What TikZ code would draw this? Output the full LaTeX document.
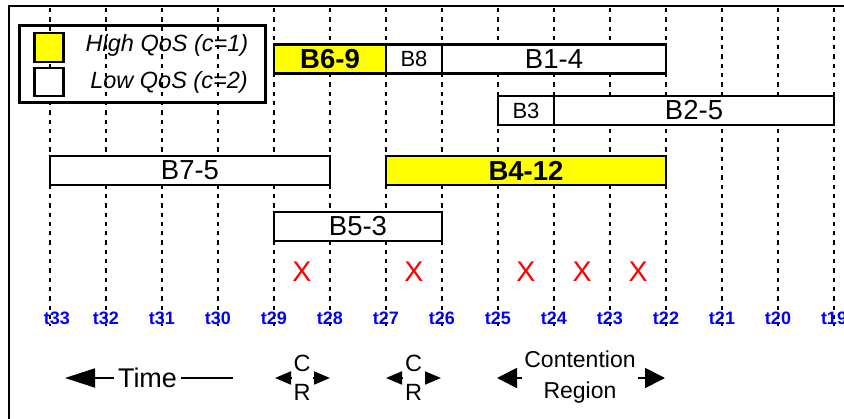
\documentclass[tikz,border=0pt]{standalone}
\usepackage{fontspec}
\setmainfont{Liberation Sans}
\usetikzlibrary{arrows.meta}
\definecolor{qhigh}{RGB}{255,255,0}
\definecolor{tickblue}{RGB}{0,0,255}
\definecolor{lossred}{RGB}{255,0,0}
\tikzset{
  slotbox/.style={draw, line width=2.4pt, fill=white, minimum height=29pt,
    inner sep=0pt, font=\fontsize{27.5}{27.5}\selectfont},
  smallslot/.style={slotbox, font=\fontsize{22}{22}\selectfont},
  highslot/.style={slotbox, fill=qhigh, font=\fontsize{27.5}{27.5}\selectfont\bfseries},
  gridline/.style={line width=1.1pt, dash pattern=on 4.3pt off 5pt},
  ticklabel/.style={text=tickblue, font=\fontsize{18}{18}\selectfont\bfseries, inner sep=0pt},
  lossmark/.style={text=lossred, font=\fontsize{28.5}{28.5}\selectfont, inner sep=0pt},
  legendtext/.style={font=\fontsize{23.5}{23.5}\selectfont\itshape, inner sep=0pt, anchor=base},
  swatch/.style={draw, line width=2.2pt, minimum width=29pt, minimum height=28.5pt, inner sep=0pt},
  bottomtext/.style={font=\fontsize{23.5}{29.5}\selectfont, align=center, inner sep=2.5pt},
  thinline/.style={line width=1.8pt},
}
\begin{document}
\begin{tikzpicture}[x=1pt, y=-1pt]
\useasboundingbox (0,0) rectangle (844,419);
\clip (0,0) rectangle (844,419);

% frame (left and top edges)
\draw[line width=2.8pt] (9,421) -- (9,6) -- (846,6);

% time grid: t33 ... t19, one column every 56pt
\foreach \k in {0,...,14}{
  \draw[gridline] (50+56*\k,8) -- (50+56*\k,326);
}
\foreach \k in {1,...,14}{
  \pgfmathtruncatemacro{\t}{33-\k}
  \node[ticklabel] (t\t) at (50+56*\k,318) {t\t};
}
\node[ticklabel] (t33) at (57,318) {t33};

% legend
\node[draw, line width=2.4pt, minimum width=246pt, minimum height=77pt, inner sep=0pt] (legend) at (142.5,64) {};
\node[swatch, fill=qhigh] (swhigh) at (49,47.5) {};
\node[swatch, fill=white] (swlow) at (49,82) {};
\node[legendtext] (lhigh) at (167,51.7) {High QoS (c=1)};
\node[legendtext] (llow) at (169,88.3) {Low QoS (c=2)};

% bursts
\node[highslot, minimum width=112pt] (b69) at (330,59) {B6-9};
\node[smallslot, minimum width=56pt] (b8) at (414,59) {B8};
\node[slotbox, minimum width=224pt] (b14) at (554,59) {B1-4};

\node[smallslot, minimum width=56pt] (b3) at (526,110.5) {B3};
\node[slotbox, minimum width=280pt] (b25) at (694,110.5) {B2-5};

\node[slotbox, minimum width=280pt] (b75) at (190,170.5) {B7-5};
\node[highslot, minimum width=280pt] (b412) at (526,170.5) {B4-12};

\node[slotbox, minimum width=168pt] (b53) at (358,226.5) {B5-3};

% collisions
\node[lossmark] (x1) at (302,272) {X};
\node[lossmark] (x2) at (414,272) {X};
\node[lossmark] (x3) at (526,272) {X};
\node[lossmark] (x4) at (582,272) {X};
\node[lossmark] (x5) at (638,272) {X};

% time direction
\node[font=\fontsize{27}{27}\selectfont, inner sep=3.5pt] (time) at (147.5,378) {Time};
\coordinate (timeL) at (65,378);
\coordinate (timeR) at (233,378);
\draw[thinline, -{Triangle[length=30pt, width=19pt]}] (time.west) -- (timeL);
\draw[thinline] (time.east) -- (timeR);

% contention regions
\node[bottomtext] (cr1) at (302,378) {C\\R};
\coordinate (cr1L) at (275,378);
\coordinate (cr1R) at (330,378);
\draw[thinline, -{Triangle[length=16pt, width=13pt]}] (cr1.west) -- (cr1L);
\draw[thinline, -{Triangle[length=16pt, width=13pt]}] (cr1.east) -- (cr1R);

\node[bottomtext] (cr2) at (413.5,378) {C\\R};
\coordinate (cr2L) at (386,378);
\coordinate (cr2R) at (441,378);
\draw[thinline, -{Triangle[length=16pt, width=13pt]}] (cr2.west) -- (cr2L);
\draw[thinline, -{Triangle[length=16pt, width=13pt]}] (cr2.east) -- (cr2R);

\node[bottomtext, font=\fontsize{23}{31}\selectfont] (cr3) at (580,377) {Contention\\Region};
\coordinate (cr3L) at (497,378);
\coordinate (cr3R) at (665,378);
\draw[thinline, -{Triangle[length=20pt, width=20pt]}] (cr3.west |- cr3L) -- (cr3L);
\draw[thinline, -{Triangle[length=20pt, width=20pt]}] (cr3.east |- cr3R) -- (cr3R);
\end{tikzpicture}
\end{document}
